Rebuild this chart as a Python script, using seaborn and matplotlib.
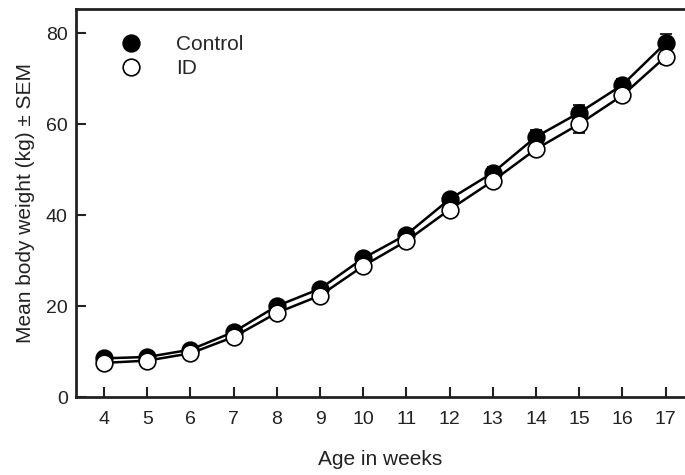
import matplotlib
matplotlib.use("Agg")
import matplotlib.pyplot as plt
from matplotlib.lines import Line2D
import seaborn as sns
import pandas as pd

weeks = [4, 5, 6, 7, 8, 9, 10, 11, 12, 13, 14, 15, 16, 17]
control_mean = [8.5, 8.8, 10.4, 14.3, 20.0, 23.8, 30.5, 35.7, 43.5, 49.3, 57.2, 62.5, 68.6, 77.8]
control_sem = [0.5, 0.5, 0.6, 0.7, 0.8, 0.9, 0.9, 1.0, 1.1, 1.2, 1.5, 1.6, 1.4, 2.0]
id_mean = [7.5, 8.0, 9.6, 13.2, 18.5, 22.3, 28.8, 34.3, 41.2, 47.5, 54.5, 60.0, 66.3, 74.8]
id_sem = [0.4, 0.5, 0.5, 0.6, 0.7, 0.8, 0.9, 1.0, 1.1, 1.1, 1.4, 1.9, 1.5, 1.5]
groups = ["Control", "ID"]

sns.set_theme(style="white")
plt.rcParams["font.family"] = ["Liberation Sans", "DejaVu Sans"]

df_c = pd.DataFrame({"week": weeks, "mean": control_mean, "sem": control_sem})
df_i = pd.DataFrame({"week": weeks, "mean": id_mean, "sem": id_sem})

fig = plt.figure(figsize=(6.85, 4.75), dpi=100)
ax = fig.add_axes([76 / 685, 1 - 397 / 475, 1 - 76 / 685, (397 - 9) / 475])

# error bars (caps only visible beyond markers)
ax.errorbar(df_c["week"], df_c["mean"], yerr=df_c["sem"], fmt="none",
            ecolor="black", elinewidth=1.2, capsize=4, capthick=1.2, zorder=2)
ax.errorbar(df_i["week"], df_i["mean"], yerr=df_i["sem"], fmt="none",
            ecolor="black", elinewidth=1.2, capsize=4, capthick=1.2, zorder=4)

sns.lineplot(data=df_c, x="week", y="mean", ax=ax, color="black", linewidth=1.8,
             marker="o", markersize=12, markerfacecolor="black",
             markeredgecolor="black", markeredgewidth=1.2, zorder=3)
sns.lineplot(data=df_i, x="week", y="mean", ax=ax, color="black", linewidth=1.8,
             marker="o", markersize=12, markerfacecolor="white",
             markeredgecolor="black", markeredgewidth=1.2, zorder=5)

ax.set_xlim(3.35, 17.45)
ax.set_ylim(0, 85.3)
ax.set_xticks(weeks)
ax.set_yticks([0, 20, 40, 60, 80])
ax.set_xlabel("Age in weeks", fontsize=15, color="#222222", labelpad=16)
ax.set_ylabel("Mean body weight (kg) \u00b1 SEM", fontsize=15, color="#222222", labelpad=8)
ax.tick_params(bottom=True, left=True, top=False, right=False)
ax.tick_params(direction="in", length=7, width=1.5, labelsize=14, colors="#222222",
               labelcolor="#222222", pad=10)
ax.tick_params(axis="y", pad=6)

for side in ["left", "bottom", "top"]:
    ax.spines[side].set_visible(True)
    ax.spines[side].set_color("#222222")
    ax.spines[side].set_linewidth(2)
ax.spines["right"].set_visible(False)

handles = [
    Line2D([], [], linestyle="none", marker="o", markersize=12,
           markerfacecolor="black", markeredgecolor="black", markeredgewidth=1.2),
    Line2D([], [], linestyle="none", marker="o", markersize=12,
           markerfacecolor="white", markeredgecolor="black", markeredgewidth=1.2),
]
ax.legend(handles, groups, loc="upper left", bbox_to_anchor=(0.043, 0.955), frameon=False,
          fontsize=15, handletextpad=1.15, labelspacing=0.25, borderaxespad=0)

fig.savefig("out.png", dpi=100)
